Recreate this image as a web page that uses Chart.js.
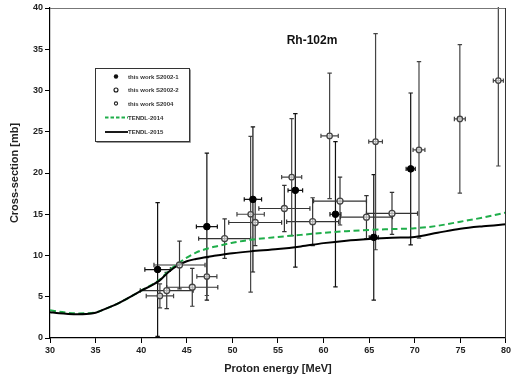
<!DOCTYPE html>
<html><head><meta charset="utf-8">
<script src="https://cdn.jsdelivr.net/npm/chart.js@4/dist/chart.umd.min.js"></script>
<style>html,body{margin:0;padding:0;background:#fff;}</style>
</head><body>
<canvas id="c" width="513" height="381"></canvas>
<script>
// ---- data ----
const E_S2002_1 = [41.8, 47.2, 52.25, 56.9, 61.3, 65.5, 69.55];
const V_S2002_1 = [8.3, 13.5, 16.8, 17.9, 15.0, 12.2, 20.5];
const dE_S2002_1 = [1.4, 1.15, 0.95, 0.8, 0.6, 0.5, 0.5];
const dV_S2002_1 = [8.1, 8.9, 8.8, 9.3, 8.8, 7.6, 9.2];

const E_S2002_2 = [42.8, 44.2, 45.6, 49.15, 52.5, 55.7, 58.8, 61.8, 64.7, 67.5];
const V_S2002_2 = [5.75, 8.85, 6.15, 12.05, 14.0, 15.7, 14.1, 16.6, 14.65, 15.1];
const dE_S2002_2 = [2.9, 2.8, 2.8, 2.85, 2.9, 2.8, 2.85, 2.9, 2.85, 2.8];
const dV_S2002_2 = [2.2, 2.9, 2.3, 2.4, 2.8, 2.8, 2.9, 2.9, 2.6, 2.55];

const E_S2004 = [42.05, 47.2, 52.0, 56.5, 60.66, 65.7, 70.46, 74.94, 79.16];
const V_S2004 = [5.1, 7.45, 15.0, 19.5, 24.5, 23.8, 22.8, 26.55, 31.2];
const dE_S2004 = [1.5, 1.1, 1.5, 1.1, 0.95, 0.75, 0.65, 0.6, 0.55];
const dV_S2004 = [1.45, 2.3, 9.45, 7.1, 7.6, 13.1, 10.7, 9.0, 10.35];

const E_TENDL = [30, 31, 32, 33, 34, 35, 36, 37, 38, 39, 40, 41, 42, 43, 44, 45, 46, 47, 48, 49, 50, 52, 55, 57.5, 60, 62.5, 65, 67.5, 70, 72.5, 75, 77.5, 80];
const V_TENDL_2014 = [3.35, 3.2, 3.05, 2.98, 3.0, 3.1, 3.5, 3.95, 4.5, 5.1, 5.75, 6.35, 7.05, 8.1, 9.0, 9.75, 10.35, 10.75, 11.05, 11.3, 11.55, 11.9, 12.25, 12.5, 12.75, 12.95, 13.1, 13.2, 13.3, 13.6, 14.1, 14.6, 15.2];
const V_TENDL_2015 = [3.12, 3.0, 2.92, 2.88, 2.9, 3.05, 3.5, 3.95, 4.5, 5.1, 5.73, 6.3, 6.95, 8.0, 8.8, 9.3, 9.58, 9.8, 9.97, 10.12, 10.27, 10.5, 10.78, 11.1, 11.5, 11.8, 12.0, 12.15, 12.25, 12.75, 13.25, 13.55, 13.78];

const X_TICKS = [30, 35, 40, 45, 50, 55, 60, 65, 70, 75, 80];
const Y_TICKS = [0, 5, 10, 15, 20, 25, 30, 35, 40];
const TITLE = 'Rh-102m';
const LEGEND = ['this work S2002-1', 'this work S2002-2', 'this work S2004', 'TENDL-2014', 'TENDL-2015'];

const pts = (xs, ys) => xs.map((x, i) => ({x, y: ys[i]}));
const FONT = 'Liberation Sans, Arial, sans-serif';

const errSeries = [
  {E: E_S2002_1, V: V_S2002_1, dE: dE_S2002_1, dV: dV_S2002_1, color: '#111'},
  {E: E_S2002_2, V: V_S2002_2, dE: dE_S2002_2, dV: dV_S2002_2, color: '#333'},
  {E: E_S2004, V: V_S2004, dE: dE_S2004, dV: dV_S2004, color: '#444'}
];

const errorBars = {
  id: 'errorBars',
  beforeDatasetsDraw(chart) {
    const {ctx, chartArea: a, scales: {x, y}} = chart;
    ctx.save();
    ctx.beginPath(); ctx.rect(a.left, a.top - 1, a.right - a.left, a.bottom - a.top + 1); ctx.clip();
    ctx.lineWidth = 1.2;
    const cap = 2.2;
    errSeries.forEach(s => {
      ctx.strokeStyle = s.color;
      s.E.forEach((e, i) => {
        const px = x.getPixelForValue(e), py = y.getPixelForValue(s.V[i]);
        const y1 = y.getPixelForValue(s.V[i] + s.dV[i]), y2 = y.getPixelForValue(s.V[i] - s.dV[i]);
        const x1 = x.getPixelForValue(e - s.dE[i]), x2 = x.getPixelForValue(e + s.dE[i]);
        ctx.beginPath();
        ctx.moveTo(px, y1); ctx.lineTo(px, y2);
        ctx.moveTo(px - cap, y1); ctx.lineTo(px + cap, y1);
        ctx.moveTo(px - cap, y2); ctx.lineTo(px + cap, y2);
        ctx.moveTo(x1, py); ctx.lineTo(x2, py);
        ctx.moveTo(x1, py - cap); ctx.lineTo(x1, py + cap);
        ctx.moveTo(x2, py - cap); ctx.lineTo(x2, py + cap);
        ctx.stroke();
      });
    });
    ctx.restore();
  }
};

const decor = {
  id: 'decor',
  afterDraw(chart) {
    const {ctx, chartArea: a} = chart;
    ctx.save();
    // frame top/right
    ctx.lineWidth = 1;
    ctx.strokeStyle = '#777';
    ctx.beginPath(); ctx.moveTo(a.left, a.top + 0.5); ctx.lineTo(a.right, a.top + 0.5); ctx.stroke();
    ctx.strokeStyle = '#333';
    ctx.beginPath(); ctx.moveTo(a.right - 0.5, a.top); ctx.lineTo(a.right - 0.5, a.bottom); ctx.stroke();
    // title
    ctx.fillStyle = '#111';
    ctx.font = 'bold 12px ' + FONT;
    ctx.textAlign = 'center'; ctx.textBaseline = 'alphabetic';
    ctx.fillText(TITLE, 312, 43.5);
    // legend box
    const L = 95.5, T = 68.5, W = 94, H = 73;
    ctx.fillStyle = '#fff';
    ctx.fillRect(L, T, W, H);
    ctx.strokeStyle = '#999'; ctx.lineWidth = 1;
    ctx.beginPath(); ctx.moveTo(L + W + 1, T + 1); ctx.lineTo(L + W + 1, T + H + 1); ctx.lineTo(L + 1, T + H + 1); ctx.stroke();
    ctx.strokeStyle = '#333';
    ctx.strokeRect(L, T, W, H);
    const rows = [76.5, 90, 103.5, 117.5, 132];
    ctx.font = 'bold 6px ' + FONT;
    ctx.textAlign = 'left'; ctx.textBaseline = 'middle';
    // markers
    ctx.lineWidth = 1.1;
    ctx.beginPath(); ctx.arc(116, rows[0], 2.2, 0, Math.PI * 2); ctx.fillStyle = '#111'; ctx.fill();
    ctx.beginPath(); ctx.arc(116, rows[1], 2.0, 0, Math.PI * 2); ctx.fillStyle = '#fff'; ctx.fill(); ctx.strokeStyle = '#111'; ctx.stroke();
    ctx.beginPath(); ctx.arc(116, rows[2], 1.6, 0, Math.PI * 2); ctx.fillStyle = '#fff'; ctx.fill(); ctx.strokeStyle = '#222'; ctx.stroke();
    // lines
    ctx.lineWidth = 1.8;
    ctx.strokeStyle = '#1fae4a'; ctx.setLineDash([3.5, 2]);
    ctx.beginPath(); ctx.moveTo(105, rows[3]); ctx.lineTo(128, rows[3]); ctx.stroke();
    ctx.setLineDash([]);
    ctx.strokeStyle = '#000';
    ctx.beginPath(); ctx.moveTo(105, rows[4]); ctx.lineTo(128, rows[4]); ctx.stroke();
    ctx.fillStyle = '#333';
    LEGEND.forEach((t, i) => ctx.fillText(t, 128, rows[i] + 0.5));
    ctx.restore();
  }
};

const tickFont = {family: FONT, size: 9, weight: 'bold'};
const titleFont = {family: FONT, size: 11, weight: 'bold'};

new Chart(document.getElementById('c'), {
  type: 'scatter',
  data: {
    datasets: [
      {label: LEGEND[3], data: pts(E_TENDL, V_TENDL_2014), showLine: true, borderColor: '#1fae4a', borderWidth: 2, borderDash: [6, 3.5], pointRadius: 0, cubicInterpolationMode: 'monotone', order: 2},
      {label: LEGEND[4], data: pts(E_TENDL, V_TENDL_2015), showLine: true, borderColor: '#000', borderWidth: 2, pointRadius: 0, cubicInterpolationMode: 'monotone', order: 1},
      {label: LEGEND[0], data: pts(E_S2002_1, V_S2002_1), pointRadius: 3.3, backgroundColor: '#000', borderColor: '#000', borderWidth: 1, order: 0},
      {label: LEGEND[1], data: pts(E_S2002_2, V_S2002_2), pointRadius: 3, backgroundColor: 'rgba(255,255,255,0.6)', borderColor: '#444', borderWidth: 1.3, order: 0},
      {label: LEGEND[2], data: pts(E_S2004, V_S2004), pointRadius: 2.7, backgroundColor: 'rgba(255,255,255,0.6)', borderColor: '#444', borderWidth: 1.3, order: 0}
    ]
  },
  options: {
    responsive: false, animation: false, devicePixelRatio: 1,
    layout: {padding: {left: 0, right: 5, top: 8, bottom: 0}},
    plugins: {legend: {display: false}, tooltip: {enabled: false}},
    scales: {
      x: {
        type: 'linear', min: 30, max: 80,
        afterBuildTicks(s) { s.ticks = X_TICKS.map(v => ({value: v})); },
        ticks: {font: tickFont, color: '#222', padding: 2, maxRotation: 0, autoSkip: false},
        grid: {drawOnChartArea: false, tickLength: 5, tickColor: '#000', tickWidth: 1},
        border: {color: '#000', width: 1.2},
        title: {display: true, text: 'Proton energy [MeV]', font: titleFont, color: '#222', padding: {top: 0, bottom: 5}},
        afterFit(s) { s.height = 43; }
      },
      y: {
        type: 'linear', min: 0, max: 40,
        afterBuildTicks(s) { s.ticks = Y_TICKS.map(v => ({value: v})); },
        ticks: {font: tickFont, color: '#222', padding: 2, autoSkip: false},
        grid: {drawOnChartArea: false, tickLength: 5, tickColor: '#000', tickWidth: 1},
        border: {color: '#000', width: 1.2},
        title: {display: true, text: 'Cross-section [mb]', font: titleFont, color: '#222', padding: {top: 8, bottom: 0}},
        afterFit(s) { s.width = 50; }
      }
    }
  },
  plugins: [errorBars, decor]
});
</script>
</body></html>
